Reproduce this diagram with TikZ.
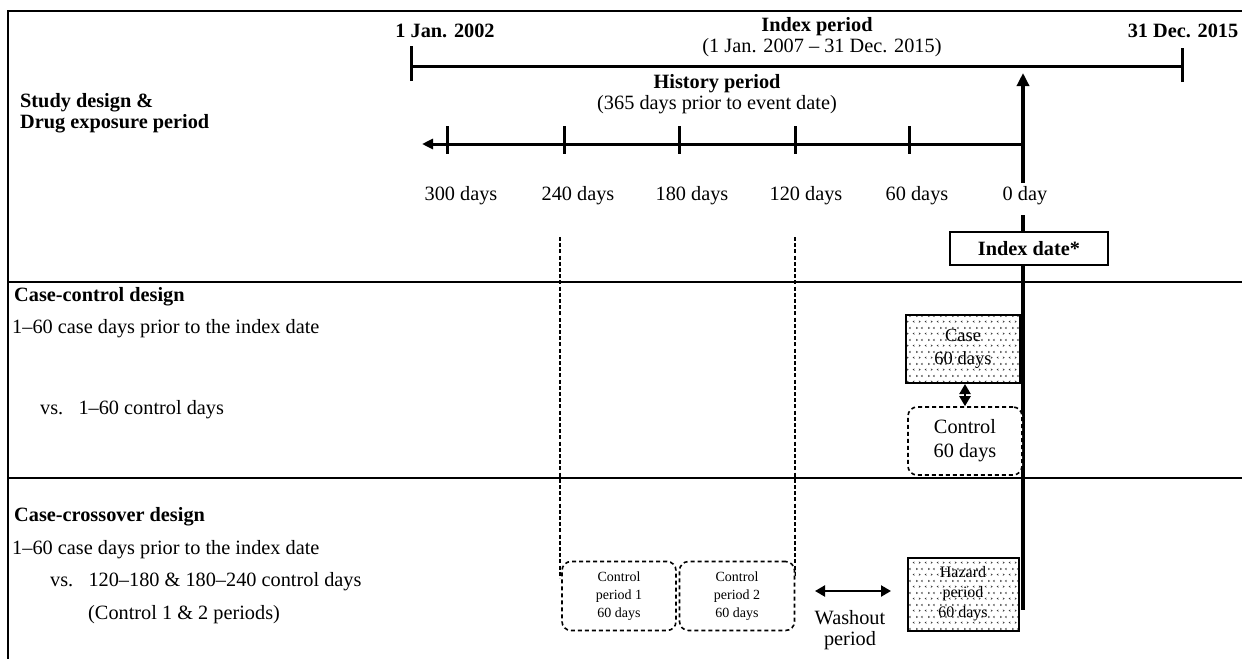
\documentclass[tikz,border=0pt]{standalone}
\usepackage{fontspec}
\setmainfont{Liberation Serif}
\usetikzlibrary{arrows.meta,patterns}
\pgfdeclarepatternformonly{chevdots}{\pgfqpoint{0pt}{0pt}}{\pgfqpoint{12pt}{12pt}}{\pgfqpoint{12pt}{12pt}}{
  \pgfsetlinewidth{0.55pt}
  \pgfpathmoveto{\pgfqpoint{2.6pt}{0.6pt}}\pgfpathlineto{\pgfqpoint{1.2pt}{1.5pt}}\pgfpathlineto{\pgfqpoint{2.6pt}{2.4pt}}
  \pgfpathmoveto{\pgfqpoint{7.4pt}{0.6pt}}\pgfpathlineto{\pgfqpoint{8.8pt}{1.5pt}}\pgfpathlineto{\pgfqpoint{7.4pt}{2.4pt}}
  \pgfpathmoveto{\pgfqpoint{4.6pt}{6.6pt}}\pgfpathlineto{\pgfqpoint{6pt}{7.5pt}}\pgfpathlineto{\pgfqpoint{4.6pt}{8.4pt}}
  \pgfpathmoveto{\pgfqpoint{11.4pt}{6.6pt}}\pgfpathlineto{\pgfqpoint{10pt}{7.5pt}}\pgfpathlineto{\pgfqpoint{11.4pt}{8.4pt}}
  \pgfusepath{stroke}}
\begin{document}
\begin{tikzpicture}[x=1pt,y=-1pt,
  every node/.style={inner sep=0pt, font=\fontsize{20.3}{24}\selectfont},
  boldlbl/.style={font=\fontsize{20.3}{24}\selectfont\bfseries},
  leftlbl/.style={anchor=west},
  boldleft/.style={anchor=west, font=\fontsize{20.3}{24}\selectfont\bfseries},
  frameline/.style={line width=1.3pt},
  timeline/.style={line width=3pt},
  tick/.style={line width=3pt},
  guide/.style={line width=1.8pt, dash pattern=on 4pt off 2.2pt},
  patbox/.style={draw, line width=2pt, preaction={fill=white}, pattern=chevdots, pattern color=black!80, align=center},
  dashbox/.style={draw, line width=1.6pt, dash pattern=on 4pt off 3pt, rounded corners=9pt, fill=white, align=center},
  bigtip/.style={-{Triangle[length=13pt,width=12pt]}},
  dbltip/.style={{Triangle[length=10pt,width=11pt]}-{Triangle[length=10pt,width=11pt]}, line width=2.2pt},
]
\useasboundingbox (0,0) rectangle (1242,659);

% frame and separators
\coordinate (fTL) at (8,11);
\coordinate (fTR) at (1242,11);
\coordinate (fBL) at (8,659);
\coordinate (s1L) at (8,282);
\coordinate (s1R) at (1242,282);
\coordinate (s2L) at (8,478);
\coordinate (s2R) at (1242,478);
\draw[frameline] (fTR) -- (fTL) -- (fBL);
\draw[frameline] (s1L) -- (s1R);
\draw[frameline] (s2L) -- (s2R);

% top labels
\node[boldlbl] (jan) at (445,31) {1 Jan. 2002};
\node[boldlbl] (dec) at (1183,31) {31 Dec. 2015};
\node[boldlbl] (idxp) at (817,27) {Index period};
\node (idxr) at (822,48) {(1 Jan. 2007 – 31 Dec. 2015)};

% study timeline
\coordinate (tl) at (411,66);
\coordinate (tr) at (1182,66);
\draw[timeline] (tl) -- (tr);
\draw[tick] ([yshift=-15pt]tl) -- ([yshift=20pt]tl);
\draw[tick] ([yshift=-16pt]tr) -- ([yshift=18pt]tr);

% history period
\node[boldlbl] (hist) at (717,84) {History period};
\node (histr) at (717,105) {(365 days prior to event date)};
\coordinate (h0) at (1023,144);
\coordinate (hend) at (422,144);
\draw[line width=3pt, -{Triangle[length=11pt,width=10pt]}] (h0) -- (hend);
\foreach \x/\n in {447/t300,564/t240,679/t180,795/t120,909/t60}{
  \coordinate (\n) at (\x,144);
  \draw[tick] ([yshift=18pt]\n) -- ([yshift=-10pt]\n);
}
\node (d300) at (461,196) {300 days};
\node (d240) at (578,196) {240 days};
\node (d180) at (692,196) {180 days};
\node (d120) at (806,196) {120 days};
\node (d60) at (917,196) {60 days};
\node (d0) at (1025,196) {0 day};

% index vertical
\coordinate (vb) at (1023,183);
\coordinate (vt) at (1023,73);
\draw[line width=3.5pt, bigtip] (vb) -- (vt);
\coordinate (vlow1) at (1023,215);
\coordinate (vlow2) at (1023,610);
\draw[line width=3.5pt] (vlow1) -- (vlow2);
\node[draw, line width=1.3pt, fill=white, minimum width=158pt, minimum height=33pt, boldlbl] (idx) at (1029,248.5) {Index date*};

% left labels
\node[boldleft] (sd1) at (20,103) {Study design \&};
\node[boldleft] (sd2) at (20,124) {Drug exposure period};
\node[boldleft] (ccd) at (14,297) {Case-control design};
\node[leftlbl] (cc1) at (12,329) {1–60 case days prior to the index date};
\node[leftlbl] (cc2) at (40,410) {vs.\ \ \ 1–60 control days};
\node[boldleft] (cxd) at (14,517) {Case-crossover design};
\node[leftlbl] (cx1) at (12,550) {1–60 case days prior to the index date};
\node[leftlbl] (cx2) at (50,582) {vs.\ \ \ 120–180 \& 180–240 control days};
\node[leftlbl] (cx3) at (88,615) {(Control 1 \& 2 periods)};

% dashed guides
\coordinate (g1a) at (560,237);
\coordinate (g1b) at (560,578);
\coordinate (g2a) at (795,237);
\coordinate (g2b) at (795,578);
\draw[guide] (g1a) -- (g1b);
\draw[guide] (g2a) -- (g2b);

% case-control boxes
\node[patbox, minimum width=114pt, minimum height=68pt, font=\fontsize{18.5}{23}\selectfont] (case) at (963,349) {Case\\60 days};
\node[dashbox, minimum width=114pt, minimum height=68pt] (ctrl) at (965,441) {Control\\60 days};
\draw[dbltip] (case.south -| ctrl.north) -- (ctrl.north);

% case-crossover boxes
\node[dashbox, minimum width=114pt, minimum height=69pt, font=\fontsize{14}{18}\selectfont] (cp1) at (619,596) {Control\\period 1\\60 days};
\node[dashbox, minimum width=115pt, minimum height=69pt, font=\fontsize{14}{18}\selectfont] (cp2) at (737,596) {Control\\period 2\\60 days};
\coordinate (wl) at (815,591);
\coordinate (wr) at (891,591);
\draw[dbltip] (wl) -- (wr);
\node[align=center, font=\fontsize{20.3}{20.5}\selectfont] (wash) at (850,630) {Washout\\period};
\node[patbox, minimum width=111pt, minimum height=73pt, font=\fontsize{16}{20}\selectfont] (haz) at (963,594) {Hazard\\period\\60 days};
\end{tikzpicture}
\end{document}
